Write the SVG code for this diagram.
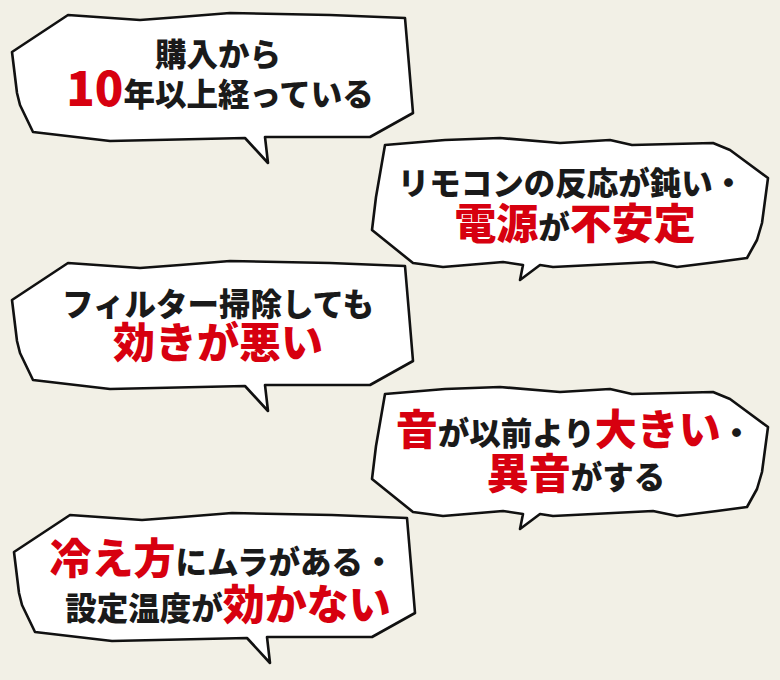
<svg xmlns="http://www.w3.org/2000/svg" width="780" height="680" viewBox="0 0 780 680">
<style>
.bub{fill:#ffffff;stroke:#111111;stroke-width:2.6;stroke-linejoin:round}
text{font-family:"Noto Sans CJK JP","Noto Sans",sans-serif;font-weight:900;fill:#1a1a1a;text-anchor:middle}
.k{font-size:31.5px}
.r{fill:#d7000f;font-size:42px}
</style>
<defs>
<path id="shapeL" d="M68,15 L140,20 L180,17 L230,13 L330,15 L405,18 L409,65 L413,113 L370,137 L265,137 L268,163 L245,138 L110,141 L33,132 L20,105 L17,93 L12,52 Z"/>
<path id="shapeR" d="M385,145 L445,140 L500,138 L560,143 L610,140 L632,145 L713,143 L730,150 L768,178 L762,223 L757,240 L747,258 L717,262 L677,267 L653,262 L553,267 L540,265 L520,280 L523,265 L503,262 L443,267 L413,263 L372,230 L376,197 Z"/>
</defs>
<rect width="780" height="680" fill="#f2f0e6"/>
<g id="bubble1">
<use href="#shapeL" class="bub"/>
<text x="218" y="66" class="k">購入から</text>
<text x="220" y="106" class="k"><tspan class="r" style="font-size:47px">10</tspan>年以上経っている</text>
</g>
<g id="bubble2">
<use href="#shapeR" class="bub"/>
<text x="571" y="195" class="k">リモコンの反応が鈍い・</text>
<text x="575" y="239" class="k"><tspan class="r">電源</tspan>が<tspan class="r">不安定</tspan></text>
</g>
<g id="bubble3">
<use href="#shapeL" class="bub" transform="translate(0,248)"/>
<text x="218" y="316" class="k">フィルター掃除しても</text>
<text x="218" y="358" class="r">効きが悪い</text>
</g>
<g id="bubble4">
<use href="#shapeR" class="bub" transform="translate(0,249)"/>
<text x="574" y="445" class="k"><tspan class="r">音</tspan>が以前より<tspan class="r">大きい</tspan>・</text>
<text x="576" y="489" class="k"><tspan class="r">異音</tspan>がする</text>
</g>
<g id="bubble5">
<use href="#shapeL" class="bub" transform="translate(2,500)"/>
<text x="222" y="574" class="k"><tspan class="r">冷え方</tspan>にムラがある・</text>
<text x="228" y="620" class="k">設定温度が<tspan class="r">効かない</tspan></text>
</g>
<g id="connectors"/>
</svg>
